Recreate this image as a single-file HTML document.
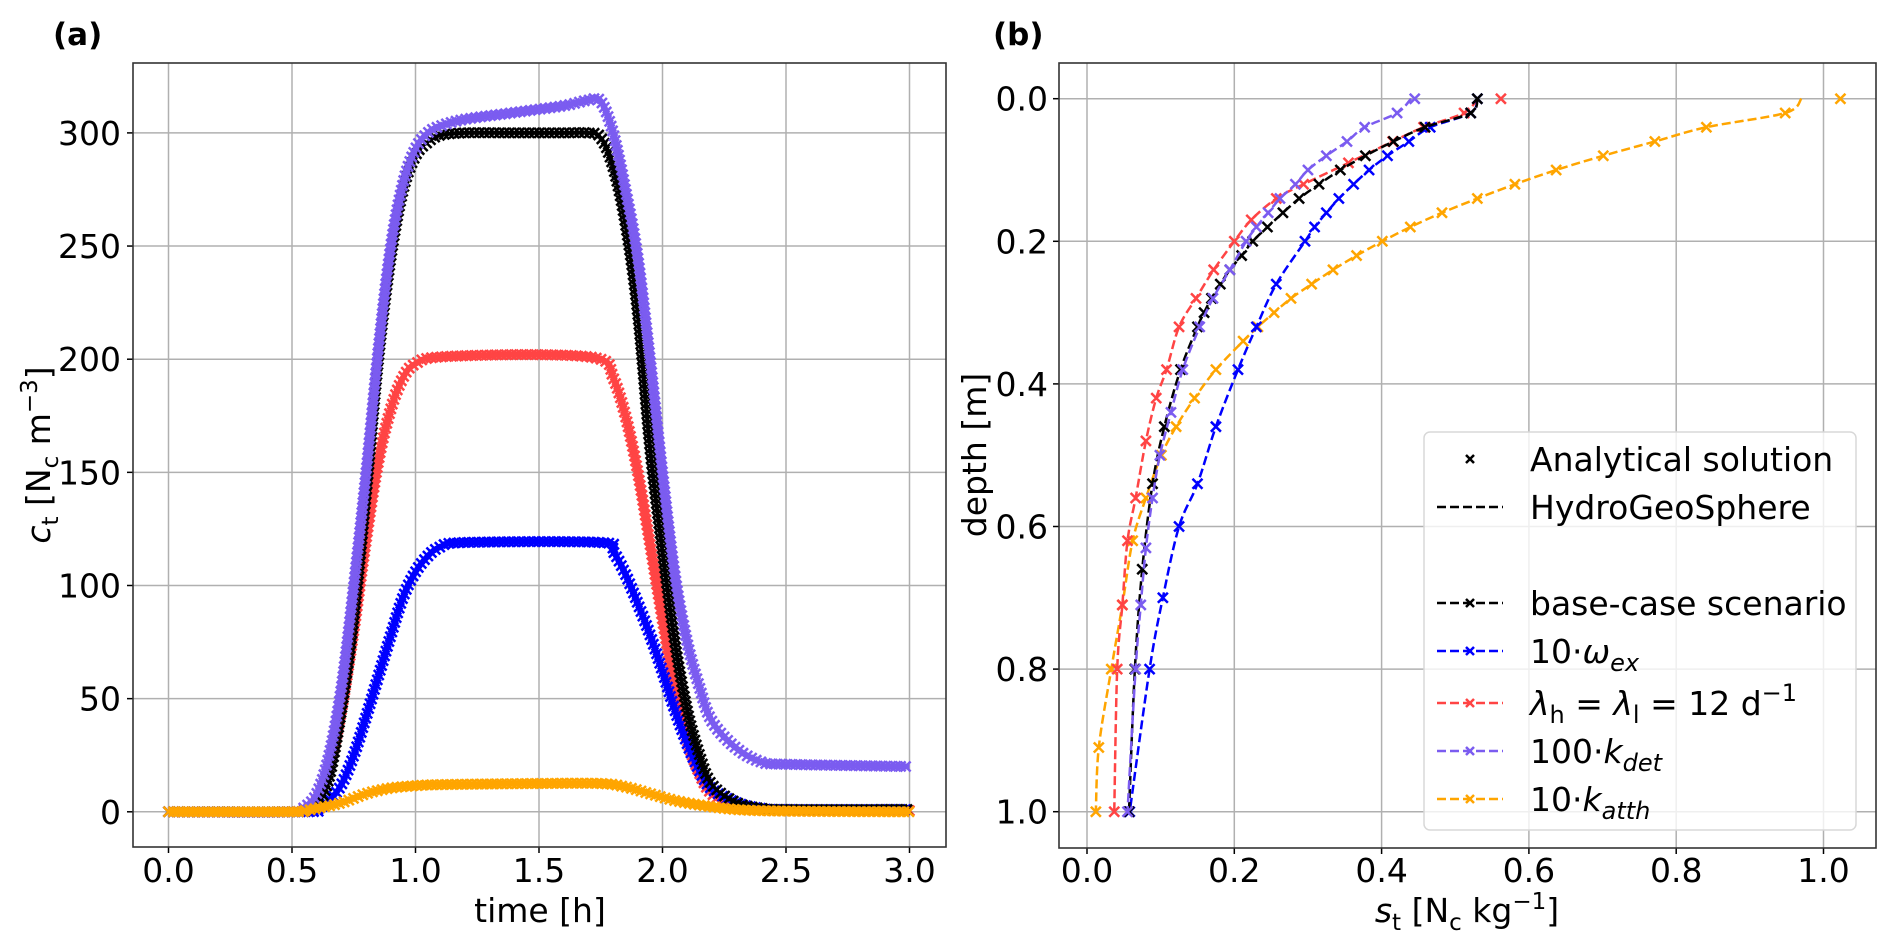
<!DOCTYPE html>
<html><head><meta charset="utf-8"><style>
body{margin:0;background:#fff;}
svg{display:block;font-family:"DejaVu Sans","Liberation Sans",sans-serif;}
</style></head><body>
<svg id="fig" width="1892" height="949" viewBox="0 0 1892 949" xmlns="http://www.w3.org/2000/svg">
<text x="53" y="45" font-size="31" font-weight="bold">(a)</text>
<text x="993" y="45" font-size="31" font-weight="bold">(b)</text>
<g id="pa"></g>
<g id="pb"></g>
</svg>
<script>
// ---------- Panel (a) data ----------
const aTicksX = [0, 0.5, 1.0, 1.5, 2.0, 2.5, 3.0];
const aTickLabelsX = ["0.0","0.5","1.0","1.5","2.0","2.5","3.0"];
const aTicksY = [0, 50, 100, 150, 200, 250, 300];
const baseT = [0,0.5,0.55,0.6,0.65,0.7,0.75,0.8,0.85,0.9,0.95,1.0,1.05,1.1,1.2,1.4,1.6,1.7,1.75,1.8,1.85,1.9,1.95,2.0,2.05,2.1,2.15,2.2,2.3,2.4,2.5,3.0];
const baseC = [0,0,1,3,15,45,85,140,200,245,275,290,296,299,300,300,300,300,298,285,260,220,160,115,75,45,25,12,4,1.5,1,1];
const purpT = [0,0.5,0.55,0.6,0.65,0.7,0.75,0.8,0.85,0.9,0.95,1.0,1.05,1.1,1.2,1.4,1.6,1.7,1.75,1.8,1.85,1.9,1.95,2.0,2.05,2.1,2.15,2.2,2.3,2.4,2.5,3.0];
const purpC = [0,0,2,8,25,55,100,150,205,250,278,293,300,303,306,309,312,314.5,314,300,275,245,200,150,105,75,55,40,28,22,21,20];
const redT = [0,0.5,0.55,0.6,0.65,0.7,0.75,0.8,0.85,0.9,0.95,1.0,1.1,1.5,1.75,1.8,1.85,1.9,1.95,2.0,2.05,2.1,2.15,2.2,2.3,2.5,3.0];
const redC = [0,0,1,5,20,45,80,120,155,178,192,198,201,202,200,192,175,150,118,85,55,32,17,8,2,0.5,0.5];
const blueT = [0,0.55,0.6,0.65,0.7,0.75,0.8,0.85,0.9,0.95,1.0,1.05,1.1,1.2,1.75,1.8,1.85,1.9,1.95,2.0,2.05,2.1,2.15,2.2,2.3,2.4,2.5,3.0];
const blueC = [0,0,1,5,12,25,42,60,78,95,106,113,117,119,119,115,105,92,78,62,45,30,18,10,4,1.5,1,1];
const orT = [0,0.5,0.55,0.6,0.7,0.8,0.9,1.0,1.1,1.5,1.75,1.85,1.95,2.05,2.15,2.3,2.5,3.0];
const orC = [0,0,0.5,1.5,4,8,10.5,11.5,12,12.5,12.5,11,8,5,3,1,0.3,0];

// ---------- Panel (b) data ----------
const bTicksX = [0,0.2,0.4,0.6,0.8,1.0];
const bTickLabelsX = ["0.0","0.2","0.4","0.6","0.8","1.0"];
const bTicksY = [0,0.2,0.4,0.6,0.8,1.0];
const bTickLabelsY = ["0.0","0.2","0.4","0.6","0.8","1.0"];
const bBaseD = [0,0.02,0.04,0.06,0.08,0.1,0.12,0.14,0.16,0.18,0.2,0.22,0.24,0.26,0.28,0.3,0.32,0.38,0.46,0.54,0.66,0.8,1.0];
const bBaseS = [0.53,0.521,0.459,0.416,0.378,0.344,0.315,0.288,0.266,0.245,0.225,0.21,0.194,0.181,0.169,0.159,0.15,0.127,0.105,0.089,0.075,0.065,0.057];
const bBlueD = [0,0.02,0.04,0.06,0.08,0.1,0.12,0.14,0.16,0.18,0.2,0.26,0.32,0.38,0.46,0.54,0.6,0.7,0.8,1.0];
const bBlueS = [0.53,0.521,0.466,0.437,0.408,0.383,0.362,0.342,0.325,0.309,0.296,0.257,0.23,0.205,0.175,0.15,0.125,0.103,0.085,0.058];
const bRedD = [0,0.02,0.04,0.06,0.09,0.12,0.14,0.17,0.2,0.24,0.28,0.32,0.38,0.42,0.48,0.56,0.62,0.71,0.8,1.0];
const bRedS = [0.562,0.512,0.457,0.415,0.355,0.294,0.257,0.223,0.2,0.172,0.148,0.125,0.108,0.094,0.08,0.066,0.055,0.048,0.041,0.037];
const bPurpD = [0,0.02,0.04,0.06,0.08,0.1,0.12,0.14,0.16,0.18,0.2,0.24,0.28,0.32,0.38,0.44,0.5,0.56,0.63,0.71,0.8,1.0];
const bPurpS = [0.445,0.421,0.377,0.353,0.325,0.3,0.283,0.262,0.246,0.23,0.216,0.194,0.171,0.153,0.13,0.114,0.099,0.089,0.08,0.073,0.066,0.055];
const bOrD = [0,0.02,0.04,0.06,0.08,0.1,0.12,0.14,0.16,0.18,0.2,0.22,0.24,0.26,0.28,0.3,0.32,0.34,0.38,0.42,0.46,0.5,0.56,0.62,0.71,0.8,0.91,1.0];
const bOrS = [1.023,0.948,0.841,0.771,0.701,0.637,0.581,0.53,0.482,0.439,0.401,0.366,0.334,0.305,0.277,0.254,0.232,0.212,0.175,0.146,0.121,0.101,0.08,0.062,0.048,0.033,0.016,0.012];
const bLineTop = [0.53,0.53,0.53,0.44,0.97]; // HGS value at depth 0: base, blue, red, purple, orange

const NS="http://www.w3.org/2000/svg";
function mk(tag, parent, attrs){const e=document.createElementNS(NS,tag);for(const k in attrs)e.setAttribute(k,attrs[k]);parent.appendChild(e);return e;}
function cross(g,x,y,s,col,w){return mk('path',g,{d:`M${x-s},${y-s}L${x+s},${y+s}M${x-s},${y+s}L${x+s},${y-s}`,stroke:col,'stroke-width':w,fill:'none'});}
function smoothPath(p){
  let d=`M${p[0][0]},${p[0][1]}`;
  for(let i=0;i<p.length-1;i++){
    const p0=p[Math.max(0,i-1)],p1=p[i],p2=p[i+1],p3=p[Math.min(p.length-1,i+2)];
    const c1=[p1[0]+(p2[0]-p0[0])/6,p1[1]+(p2[1]-p0[1])/6];
    const c2=[p2[0]-(p3[0]-p1[0])/6,p2[1]-(p3[1]-p1[1])/6];
    d+=`C${c1[0]},${c1[1]} ${c2[0]},${c2[1]} ${p2[0]},${p2[1]}`;
  }
  return d;
}

const GRID='#b0b0b0';
// ---------- draw panel a ----------
(function(){
  const g=document.getElementById('pa');
  const L=133,R=946,T=63,B=847;
  const xs=t=>168.5+t*247, ys=v=>811.8-v*2.263;
  aTicksX.forEach((t,i)=>{
    const gl=mk('line',g,{x1:xs(t),x2:xs(t),y1:T,y2:B,stroke:GRID,'stroke-width':1.5});
    
    mk('line',g,{x1:xs(t),x2:xs(t),y1:B,y2:B+6,stroke:'#000','stroke-width':1.5});
    const tx=mk('text',g,{x:xs(t),y:882,'font-size':33,'text-anchor':'middle'});tx.textContent=aTickLabelsX[i];
    
  });
  aTicksY.forEach(v=>{
    const gl=mk('line',g,{x1:L,x2:R,y1:ys(v),y2:ys(v),stroke:GRID,'stroke-width':1.5});
    
    mk('line',g,{x1:L-6,x2:L,y1:ys(v),y2:ys(v),stroke:'#000','stroke-width':1.5});
    const tx=mk('text',g,{x:121,y:ys(v)+12,'font-size':33,'text-anchor':'end'});tx.textContent=v;
    
  });
  const series=[[redT,redC,'#ff4444','red'],[blueT,blueC,'#0000ff','blue'],[baseT,baseC,'#000000','base'],[purpT,purpC,'#7b5cf0','purple'],[orT,orC,'#ffa500','orange']];
  series.forEach(([T_,C_,col,nm])=>{
    const sg=mk('g',g,{});
    
    const pts=T_.map((t,i)=>[xs(t),ys(C_[i])]);
    const path=mk('path',sg,{d:smoothPath(pts),fill:'none',stroke:col,'stroke-width':nm==='base'?3:6,'stroke-linejoin':'round'});
    // markers along the curve (dense, like the reference)
    const len=path.getTotalLength();
    for(let s=0;s<=len;s+=5){
      const p=path.getPointAtLength(s);
      const m=cross(sg,p.x,p.y,5,col,2.5);
      
      
    }
  });
  mk('rect',g,{x:L,y:T,width:R-L,height:B-T,fill:'none',stroke:'#333','stroke-width':1.6});
  const xl=mk('text',g,{x:540,y:922,'font-size':33,'text-anchor':'middle'});xl.textContent='time [h]';
  
  const yl=mk('text',g,{x:0,y:0,'font-size':33,'text-anchor':'middle',transform:'translate(50,455) rotate(-90)'});
  yl.innerHTML='<tspan font-style="italic">c</tspan><tspan font-size="23" dy="8">t</tspan><tspan dy="-8"> [N</tspan><tspan font-size="23" dy="8">c</tspan><tspan dy="-8"> m</tspan><tspan font-size="23" dy="-13">−3</tspan><tspan dy="13">]</tspan>';
  
})();

// ---------- draw panel b ----------
(function(){
  const g=document.getElementById('pb');
  const L=1059,R=1876,T=63,B=848;
  const xs=s=>1087+s*736.5, ys=d=>98.7+d*713;
  bTicksX.forEach((s,i)=>{
    const gl=mk('line',g,{x1:xs(s),x2:xs(s),y1:T,y2:B,stroke:GRID,'stroke-width':1.5});
    
    mk('line',g,{x1:xs(s),x2:xs(s),y1:B,y2:B+6,stroke:'#000','stroke-width':1.5});
    const tx=mk('text',g,{x:xs(s),y:882,'font-size':33,'text-anchor':'middle'});tx.textContent=bTickLabelsX[i];
    
  });
  bTicksY.forEach((d,i)=>{
    const gl=mk('line',g,{x1:L,x2:R,y1:ys(d),y2:ys(d),stroke:GRID,'stroke-width':1.5});
    
    mk('line',g,{x1:L-6,x2:L,y1:ys(d),y2:ys(d),stroke:'#000','stroke-width':1.5});
    const tx=mk('text',g,{x:1048,y:ys(d)+12,'font-size':33,'text-anchor':'end'});tx.textContent=bTickLabelsY[i];
    
  });
  const series=[[bOrD,bOrS,'#ffa500','orange',4],[bRedD,bRedS,'#ff4444','red',2],[bBlueD,bBlueS,'#0000ff','blue',1],[bBaseD,bBaseS,'#000000','base',0],[bPurpD,bPurpS,'#7b5cf0','purple',3]];
  series.forEach(([D,S,col,nm,li])=>{
    const sg=mk('g',g,{});
    
    const pts=D.map((d,i)=>[xs(i===0?bLineTop[li]:S[i]),ys(d)]);
    const pl=mk('path',sg,{d:smoothPath(pts),fill:'none',stroke:col,'stroke-width':2.5,'stroke-dasharray':'9,4'});
    
    D.forEach((d,i)=>{const m=cross(sg,xs(S[i]),ys(d),5,col,2.5);
      });
  });
  mk('rect',g,{x:L,y:T,width:R-L,height:B-T,fill:'none',stroke:'#333','stroke-width':1.6});
  // legend
  const lg=mk('g',g,{});
  
  mk('rect',lg,{x:1424,y:432,width:432,height:398,rx:6,fill:'#fff','fill-opacity':0.8,stroke:'#d8d8d8','stroke-width':1.5});
  const entries=[[459,'#000','marker','Analytical solution'],[507,'#000','line','HydroGeoSphere'],[603,'#000','both','base-case scenario'],[651,'#0000ff','both','10·<tspan font-style="italic">ω</tspan><tspan font-style="italic" font-size="24" dy="8">ex</tspan>'],[703,'#ff4444','both','<tspan font-style="italic">λ</tspan><tspan font-size="24" dy="8">h</tspan><tspan dy="-8"> = </tspan><tspan font-style="italic">λ</tspan><tspan font-size="24" dy="8">l</tspan><tspan dy="-8"> =  12 d</tspan><tspan font-size="24" dy="-14">−1</tspan>'],[751,'#7b5cf0','both','100·<tspan font-style="italic">k</tspan><tspan font-style="italic" font-size="24" dy="8">det</tspan>'],[799,'#ffa500','both','10·<tspan font-style="italic">k</tspan><tspan font-style="italic" font-size="24" dy="8">atth</tspan>']];
  entries.forEach(([y,col,type,label])=>{
    const eg=mk('g',lg,{});
    
    if(type!=='marker')mk('line',eg,{x1:1437,x2:1503,y1:y,y2:y,stroke:col,'stroke-width':2.5,'stroke-dasharray':'9,4'});
    if(type!=='line')cross(eg,1470,y,4,col,2.5);
    const t=mk('text',eg,{x:1530,y:y+12,'font-size':33});t.innerHTML=label;
  });
  const xl=mk('text',g,{x:1467,y:922,'font-size':33,'text-anchor':'middle'});
  xl.innerHTML='<tspan font-style="italic">s</tspan><tspan font-size="23" dy="8">t</tspan><tspan dy="-8"> [N</tspan><tspan font-size="23" dy="8">c</tspan><tspan dy="-8"> kg</tspan><tspan font-size="23" dy="-13">−1</tspan><tspan dy="13">]</tspan>';
  
  const yl=mk('text',g,{x:0,y:0,'font-size':33,'text-anchor':'middle',transform:'translate(986,455) rotate(-90)'});
  yl.textContent='depth [m]';
  
})();
</script>
</body></html>
